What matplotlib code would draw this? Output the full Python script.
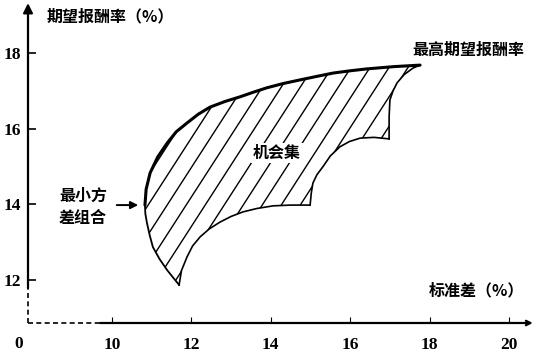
import matplotlib
matplotlib.use('Agg')
import matplotlib.pyplot as plt
from matplotlib.patches import Polygon
import numpy as np

plt.rcParams['font.family'] = ['Noto Sans CJK SC', 'DejaVu Sans']

# efficient frontier (std %, return %), from min-variance point to max return
front_sd = [10.83, 10.86, 10.96, 11.15, 11.39, 11.62, 11.89, 12.17, 12.47, 12.85, 13.22, 13.55, 13.90, 14.30, 14.74, 15.15, 15.57, 16.00, 16.42, 17.10, 17.76]
front_ret = [13.98, 14.40, 14.83, 15.25, 15.62, 15.92, 16.15, 16.38, 16.57, 16.72, 16.84, 16.96, 17.08, 17.19, 17.29, 17.38, 17.47, 17.53, 17.58, 17.64, 17.68]

# lower left edge, min-variance point down to the lowest portfolio
left_sd = [10.83, 10.84, 10.88, 10.95, 11.03, 11.20, 11.39, 11.55, 11.69]
left_ret = [13.98, 13.75, 13.51, 13.18, 12.87, 12.55, 12.26, 12.05, 11.87]

# lower scalloped edge, three concave arcs
arc1_sd = [11.69, 11.75, 11.89, 12.03, 12.22, 12.45, 12.72, 13.00, 13.30, 13.65, 14.06, 14.50, 14.99]
arc1_ret = [11.87, 12.25, 12.61, 12.90, 13.14, 13.35, 13.53, 13.68, 13.80, 13.89, 13.96, 13.98, 13.98]
arc2_sd = [14.99, 15.02, 15.06, 15.16, 15.31, 15.50, 15.74, 15.98, 16.25, 16.60, 16.98]
arc2_ret = [13.98, 14.30, 14.56, 14.78, 14.99, 15.28, 15.52, 15.66, 15.75, 15.77, 15.73]
arc3_sd = [16.98, 16.98, 17.00, 17.08, 17.18, 17.36, 17.58, 17.76]
arc3_ret = [15.73, 16.30, 16.76, 17.00, 17.21, 17.43, 17.60, 17.68]

xticks = [10, 12, 14, 16, 18, 20]
yticks = [12, 14, 16, 18]

fig = plt.figure(figsize=(5.41, 3.57), dpi=100)
ax = fig.add_axes([28/541, (357-323)/357, (535-28)/541, (323-5)/357])
x0, x1 = 7.884, 20.655
y0, y1 = 10.863, 19.269
ax.set_xlim(x0, x1)
ax.set_ylim(y0, y1)
for s in ax.spines.values():
    s.set_visible(False)

ax.set_xticks(xticks)
ax.set_yticks(yticks)
ax.set_xticklabels([str(t) for t in xticks], family='Liberation Serif', weight='bold', fontsize=12.5)
ax.set_yticklabels([str(t) for t in yticks], family='Liberation Serif', weight='bold', fontsize=12.5)
ax.tick_params(axis='x', direction='in', length=4, width=0.8, pad=10)
ax.tick_params(axis='y', direction='in', length=6, width=1.2, pad=5)

# axes drawn by hand: broken (dashed) near origin
ax.plot([x0, x0], [y0, 11.79], ls=(0, (3, 2)), color='k', lw=1.2, clip_on=False)
ax.plot([x0, 9.70], [y0, y0], ls=(0, (3, 2)), color='k', lw=1.2, clip_on=False)
ax.annotate('', xy=(x0, y1 + 0.05), xytext=(x0, 11.79),
            arrowprops=dict(arrowstyle='-|>', lw=1.6, color='k', mutation_scale=14, shrinkA=0, shrinkB=0),
            annotation_clip=False)
ax.annotate('', xy=(20.6, y0), xytext=(9.70, y0),
            arrowprops=dict(arrowstyle='->', lw=1.6, color='k', mutation_scale=8, shrinkA=0, shrinkB=0),
            annotation_clip=False)
fig.text(19/541, 1 - 344/357, '0', family='Liberation Serif', weight='bold', fontsize=12.5, ha='center', va='center')

# opportunity set region
poly_x = front_sd + arc3_sd[::-1][1:] + arc2_sd[::-1][1:] + arc1_sd[::-1][1:] + left_sd[::-1][1:]
poly_y = front_ret + arc3_ret[::-1][1:] + arc2_ret[::-1][1:] + arc1_ret[::-1][1:] + left_ret[::-1][1:]
region = Polygon(np.column_stack([poly_x, poly_y]), closed=True, facecolor='none', edgecolor='none')
ax.add_patch(region)

# diagonal hatching clipped to region
slope = 1.627
step = 0.479
xs = np.array([10.0, 19.0])
for k in range(-20, 21):
    c = 14.86 + k * step
    ln, = ax.plot(xs, 17.29 + slope * (xs - c), color='k', lw=1.0)
    ln.set_clip_path(region)

ax.plot(front_sd, front_ret, color='k', lw=2.2, solid_capstyle='round')
ax.plot(left_sd, left_ret, color='k', lw=1.3)
ax.plot(arc1_sd, arc1_ret, color='k', lw=1.2)
ax.plot(arc2_sd, arc2_ret, color='k', lw=1.2)
ax.plot(arc3_sd, arc3_ret, color='k', lw=1.2)

ax.text(14.15, 15.35, '机会集', fontsize=11.5, weight='bold', ha='center', va='center',
        bbox=dict(facecolor='white', edgecolor='none', pad=1.5))

# labels
fig.text(47/541, 1 - 16/357, '期望报酬率（%）', fontsize=11.5, weight='bold', ha='left', va='center')
fig.text(412/541, 1 - 50/357, '最高期望报酬率', fontsize=11.5, weight='bold', ha='left', va='center')
fig.text(429/541, 1 - 290/357, '标准差（%）', fontsize=11.5, weight='bold', ha='left', va='center')
ax.text(9.27, 13.93, '最小方\n差组合', fontsize=11.5, weight='bold', ha='center', va='center', linespacing=1.5)
ax.annotate('', xy=(10.66, 13.98), xytext=(10.12, 13.98),
            arrowprops=dict(arrowstyle='-|>', lw=1.4, color='k', mutation_scale=11, shrinkA=0, shrinkB=0))

fig.savefig('out.png', dpi=100)
